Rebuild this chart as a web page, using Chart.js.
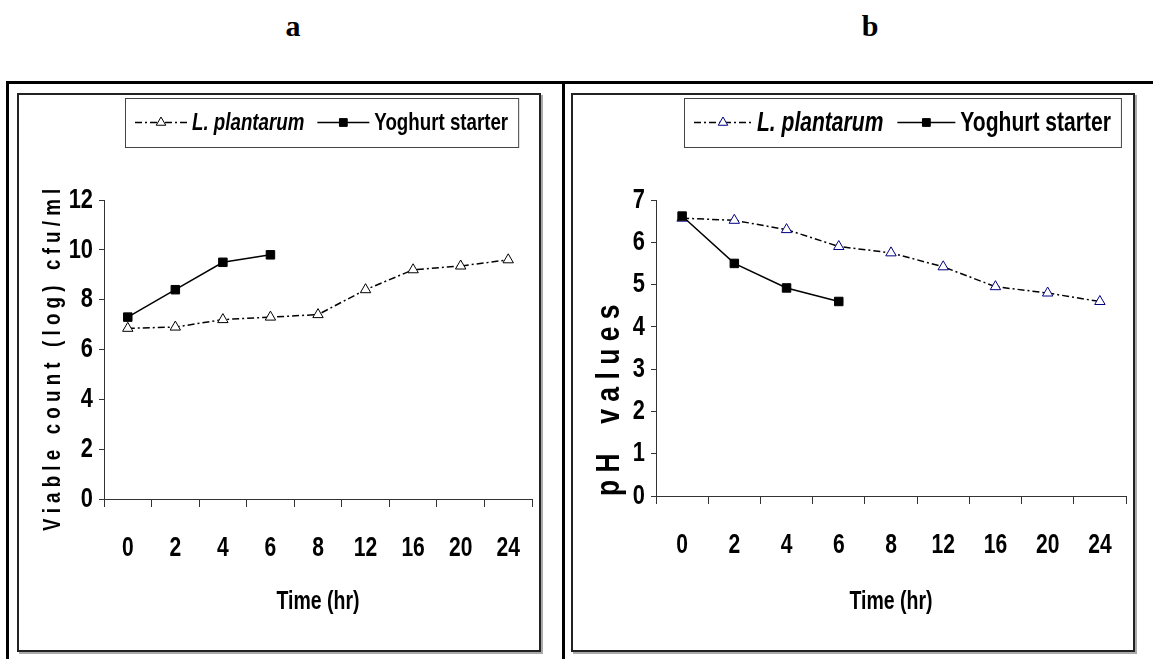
<!DOCTYPE html>
<html>
<head>
<meta charset="utf-8">
<script src="https://cdn.jsdelivr.net/npm/chart.js@4.4.0/dist/chart.umd.min.js"></script>
<style>
body { margin: 0; background: #fff; width: 1153px; height: 659px; position: relative; overflow: hidden; }
.lbl { position: absolute; top: 9px; font: bold 30px 'Liberation Serif', 'Times New Roman', serif; transform: translateX(-50%); }
.rule { position: absolute; background: #000; }
.panel { position: absolute; top: 93px; height: 555px; border: 2px solid #222; box-shadow: 2px 2px 0 #aaa; }
.panel canvas { display: block; }
</style>
</head>
<body>
<div class="lbl" style="left:293px">a</div>
<div class="lbl" style="left:870px">b</div>
<div class="rule" style="left:7px;top:81px;width:1146px;height:3px"></div>
<div class="rule" style="left:6px;top:81px;width:3px;height:578px"></div>
<div class="rule" style="left:562px;top:81px;width:3px;height:578px"></div>

<div class="panel" style="left:17px;width:520px"><canvas id="chartA" width="520" height="555"></canvas></div>
<div class="panel" style="left:571px;width:560px"><canvas id="chartB" width="560" height="555"></canvas></div>

<script>
// time points (hr)
const hours = ['0', '2', '4', '6', '8', '12', '16', '20', '24'];

// a: viable count (log cfu/ml)
const countPlantarum = [6.85, 6.9, 7.2, 7.3, 7.4, 8.4, 9.2, 9.35, 9.6];
const countYoghurt = [7.3, 8.4, 9.5, 9.8];

// b: pH
const phPlantarum = [6.57, 6.52, 6.3, 5.9, 5.75, 5.42, 4.95, 4.8, 4.6];
const phYoghurt = [6.62, 5.5, 4.92, 4.6];

const FONT = "'Liberation Sans', Arial, sans-serif";
// the original uses a narrow bold face; squeeze text horizontally to get the same look
const SQUEEZE = 0.78;

const narrowText = {
    id: 'narrowText',
    beforeInit(chart) {
        const ctx = chart.ctx;
        const fill = ctx.fillText;
        ctx.fillText = function (text, x, y, maxWidth) {
            this.save();
            this.translate(x, y);
            this.scale(SQUEEZE, 1);
            if (maxWidth === undefined) fill.call(this, text, 0, 0);
            else fill.call(this, text, 0, 0, maxWidth / SQUEEZE);
            this.restore();
        };
    }
};

// legend drawn as a framed box: dashed/solid sample line with the marker in the middle
const boxLegend = {
    id: 'boxLegend',
    afterDraw(chart, args, opts) {
        const ctx = chart.ctx;
        const sets = chart.data.datasets;
        ctx.save();
        ctx.textBaseline = 'middle';
        ctx.textAlign = 'left';
        let widths = sets.map(ds => {
            ctx.font = ds.legendStyle + ' ' + opts.size + 'px ' + FONT;
            return ctx.measureText(ds.label).width * SQUEEZE;
        });
        let total = opts.pad * 2;
        for (let i = 0; i < sets.length; i++) {
            total += opts.sample + opts.textGap + widths[i];
            if (i > 0) total += opts.itemGap;
        }
        let left = Math.round(opts.centerX - total / 2);
        let top = opts.top;
        ctx.fillStyle = '#fff';
        ctx.fillRect(left, top, total, opts.height);
        ctx.strokeStyle = '#444';
        ctx.lineWidth = 1;
        ctx.strokeRect(left + 0.5, top + 0.5, total, opts.height);

        let x = left + opts.pad;
        let y = top + opts.height / 2;
        for (let i = 0; i < sets.length; i++) {
            const ds = sets[i];
            ctx.setLineDash(ds.borderDash || []);
            ctx.strokeStyle = ds.borderColor;
            ctx.lineWidth = ds.borderWidth;
            ctx.beginPath();
            ctx.moveTo(x, y);
            ctx.lineTo(x + opts.sample, y);
            ctx.stroke();
            ctx.setLineDash([]);
            ctx.fillStyle = ds.pointBackgroundColor;
            ctx.strokeStyle = ds.pointBorderColor;
            ctx.lineWidth = ds.pointBorderWidth;
            Chart.helpers.drawPoint(ctx, {pointStyle: ds.pointStyle, radius: ds.pointRadius - 0.5, rotation: 0, borderWidth: ds.pointBorderWidth}, x + opts.sample / 2, y);
            x += opts.sample + opts.textGap;
            ctx.font = ds.legendStyle + ' ' + opts.size + 'px ' + FONT;
            ctx.fillStyle = '#000';
            ctx.fillText(ds.label, x, y + 1);
            x += widths[i] + opts.itemGap;
        }
        ctx.restore();
    }
};

function makeChart(id, cfg) {
    return new Chart(document.getElementById(id), {
        type: 'line',
        data: {
            labels: hours,
            datasets: [{
                label: 'L. plantarum',
                legendStyle: 'italic bold',
                data: cfg.plantarum,
                borderColor: '#000',
                borderWidth: 1.5,
                borderDash: [7, 3, 2, 3],
                pointStyle: 'triangle',
                pointRadius: 6,
                pointBorderWidth: 1,
                pointBackgroundColor: '#fff',
                pointBorderColor: cfg.markerColor,
                tension: 0,
                order: 1
            }, {
                label: 'Yoghurt starter',
                legendStyle: 'bold',
                data: cfg.yoghurt,
                borderColor: '#000',
                borderWidth: 1.5,
                pointStyle: 'rect',
                pointRadius: 6,
                pointBorderWidth: 1,
                pointBackgroundColor: '#000',
                pointBorderColor: '#000',
                tension: 0,
                order: 0
            }]
        },
        options: {
            responsive: false,
            animation: false,
            devicePixelRatio: 1,
            layout: {padding: {top: 105, right: 3, left: 0, bottom: 0}},
            plugins: {
                legend: {display: false},
                tooltip: {enabled: false},
                boxLegend: cfg.legend
            },
            scales: {
                x: {
                    offset: true,
                    ticks: {color: '#000', font: {family: FONT, size: 27, weight: 'bold'}, padding: 25, maxRotation: 0, autoSkip: false},
                    grid: {drawOnChartArea: false, tickLength: 8, color: '#333', offset: true},
                    border: {color: '#333', width: 1},
                    title: {display: true, text: 'Time (hr)', color: '#000', font: {family: FONT, size: 25, weight: 'bold'}, padding: {bottom: 33}},
                    afterFit(s) {
                        s.height = cfg.xHeight;
                        s.paddingLeft = 0;
                        s.paddingRight = 0;
                    }
                },
                y: {
                    min: 0,
                    max: cfg.yMax,
                    ticks: {stepSize: cfg.yStep, color: '#000', font: {family: FONT, size: 28, weight: 'bold'}, padding: 6},
                    grid: {drawOnChartArea: false, tickLength: 5, color: '#333'},
                    border: {color: '#333', width: 1},
                    title: {display: true, text: cfg.yTitle, align: cfg.yAlign, color: '#000', font: {family: FONT, size: cfg.yTitleSize, weight: 'bold'}, padding: {top: cfg.yTitlePad}},
                    afterFit(s) { s.width = cfg.yWidth; }
                }
            }
        },
        plugins: [narrowText, boxLegend]
    });
}

makeChart('chartA', {
    plantarum: countPlantarum,
    yoghurt: countYoghurt,
    markerColor: '#000',
    yMax: 12,
    yStep: 2,
    yTitle: 'V i a b l e   c o u n t   ( l o g )   c f u / m l    ',
    yTitleSize: 24,
    yTitlePad: 20,
    yAlign: 'center',
    yWidth: 85,
    xHeight: 151,
    legend: {centerX: 303, top: 3, height: 49, size: 24, pad: 10, sample: 52, textGap: 5, itemGap: 13}
});

makeChart('chartB', {
    plantarum: phPlantarum,
    yoghurt: phYoghurt,
    markerColor: '#000080',
    yMax: 7,
    yStep: 1,
    yTitle: 'p H    v a l u e s',
    yTitleSize: 34,
    yTitlePad: 16,
    yAlign: 'start',
    yWidth: 83,
    xHeight: 154,
    legend: {centerX: 329, top: 3, height: 49, size: 27, pad: 10, sample: 58, textGap: 5, itemGap: 14}
});
</script>
</body>
</html>
